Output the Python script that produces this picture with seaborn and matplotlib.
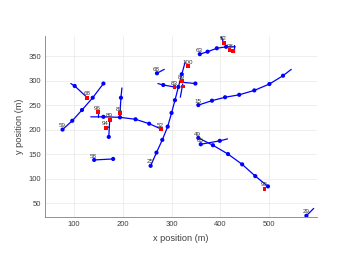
import pandas as pd
import matplotlib
matplotlib.use("Agg")
import matplotlib.pyplot as plt
import seaborn as sns

# track histories (metres); marked = point drawn with a dot
track_names = ['59', '68a', '52', '96', '89a', '94', '81', '58', '25', '68b',
               '83', '89b', '89c', '63', '92', '98', '15', '49', '65', '29']
track_x = [[76, 96, 116, 138, 160], [93, 101, 127], [134, 160, 194, 226, 254, 279],
           [149, 149], [173, 171], [165, 172], [198, 196, 194, 194], [141, 180],
           [257, 269, 281, 292, 300, 307, 314, 321, 328], [270, 285],
           [272, 283, 306], [317, 349], [323, 318], [358, 374, 393, 412, 431],
           [402, 408], [428, 428], [355, 383, 410, 439, 470, 501, 529, 546],
           [355, 385, 416, 445, 472, 498], [360, 399, 415], [577, 592]]
track_y = [[200, 218, 240, 265, 294], [294, 289, 265], [226, 226, 225, 221, 212, 201],
           [235, 226], [220, 185], [204, 205], [285, 265, 233, 225], [138, 140],
           [126, 153, 179, 206, 234, 260, 287, 313, 338], [315, 323],
           [294, 291, 287], [297, 294], [293, 266], [354, 359, 366, 369, 369],
           [389, 375], [372, 358], [250, 259, 266, 271, 280, 293, 310, 323],
           [183, 168, 150, 129, 105, 84], [170, 177, 181], [24, 39]]
track_marked = [[1, 1, 1, 1, 1], [0, 1, 0], [0, 1, 1, 1, 1, 0], [0, 0], [0, 1], [0, 0],
                [0, 1, 0, 0], [1, 1], [1, 1, 1, 1, 1, 1, 1, 1, 0], [1, 0], [0, 1, 0],
                [0, 1], [0, 0], [1, 1, 1, 1, 0], [0, 0], [0, 0],
                [1, 1, 1, 1, 1, 1, 1, 0], [1, 1, 1, 1, 1, 1], [1, 1, 0], [1, 0]]

# detections (red squares)
det_x = [127, 149, 173, 165, 194, 279, 306, 334, 321, 323, 407, 419, 426, 491]
det_y = [265, 235, 220, 204, 233, 201, 287, 330, 299, 288, 377, 362, 361, 79]

# track id labels
label_text = ['59', '68', '96', '89', '94', '81', '52', '58', '25', '68', '83',
              '100', '89', '63', '92', '98', '15', '49', '65', '93', '29']
label_x = [76, 127, 149, 173, 165, 194, 279, 141, 257, 270, 306,
           334, 321, 358, 407, 421, 355, 355, 360, 491, 577]
label_y = [200, 265, 235, 220, 204, 233, 201, 138, 126, 315, 287,
           330, 299, 354, 377, 362, 250, 183, 170, 79, 24]

rows = []
for name, xs, ys, ms in zip(track_names, track_x, track_y, track_marked):
    for i, (x, y, m) in enumerate(zip(xs, ys, ms)):
        rows.append({'track': name, 'order': i, 'x': x, 'y': y, 'marked': bool(m)})
df = pd.DataFrame(rows)
dets = pd.DataFrame({'x': det_x, 'y': det_y})

sns.set_style("white")
plt.rcParams['font.family'] = ['Liberation Sans', 'DejaVu Sans']

fig = plt.figure(figsize=(3.5, 2.63), dpi=100)
ax = fig.add_axes([0.1286, 0.174, 0.776, 0.689])

sns.lineplot(data=df, x='x', y='y', units='track', estimator=None, sort=False,
             color='blue', lw=0.9, ax=ax)
sns.scatterplot(data=df[df['marked']], x='x', y='y', color='blue', s=9,
                edgecolor='none', ax=ax, zorder=3)
sns.scatterplot(data=dets, x='x', y='y', color='red', marker='s', s=8,
                edgecolor='none', ax=ax, zorder=4)

for t, x, y in zip(label_text, label_x, label_y):
    ax.annotate(t, (x, y), xytext=(-0.5, 1), textcoords='offset points',
                ha='center', va='bottom', fontsize=4.5, color='#333333', zorder=5)

ax.set_xlim(40, 598)
ax.set_ylim(21, 391)
ax.set_xticks([100, 200, 300, 400, 500])
ax.set_yticks([50, 100, 150, 200, 250, 300, 350])
ax.grid(True, color='#e8e8e8', lw=0.5)
ax.set_axisbelow(True)
for side in ['top', 'right']:
    ax.spines[side].set_visible(False)
for side in ['left', 'bottom']:
    ax.spines[side].set_color('#808080')
    ax.spines[side].set_linewidth(0.6)
ax.tick_params(direction='in', length=2, width=0.5, color='#808080',
               labelsize=5.5, labelcolor='#404040', pad=3)
ax.set_xlabel('x position (m)', fontsize=6.6, color='#404040', labelpad=4)
ax.set_ylabel('y position (m)', fontsize=6.6, color='#404040', labelpad=3)

fig.savefig('out.png', dpi=100)
